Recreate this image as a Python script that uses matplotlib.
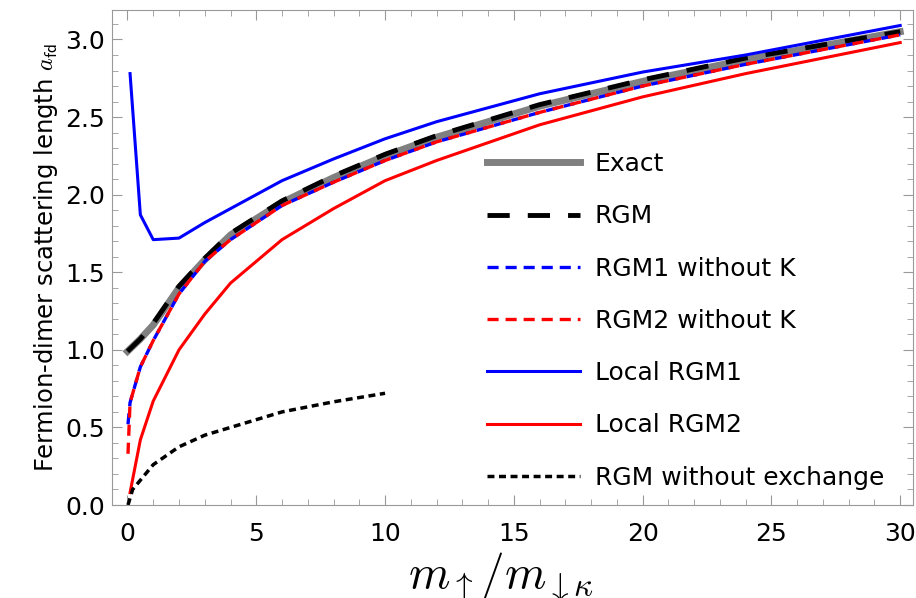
import matplotlib
matplotlib.use("Agg")
from matplotlib import pyplot as plt

plt.rcParams['font.family'] = ['DejaVu Sans']
plt.rcParams['mathtext.fontset'] = 'cm'
plt.rcParams['lines.scale_dashes'] = False

# curves
x_exact = [0, 0.5, 1, 2, 3, 4, 6, 8, 10, 12, 16, 20, 24, 30]
y_exact = [0.99, 1.07, 1.16, 1.40, 1.58, 1.74, 1.95, 2.11, 2.25, 2.37, 2.57, 2.73, 2.87, 3.05]
y_rgm = [0.99, 1.07, 1.17, 1.41, 1.59, 1.75, 1.96, 2.12, 2.26, 2.38, 2.58, 2.74, 2.88, 3.05]

x_nok = [0.02, 0.1, 0.5, 1, 2, 3, 4, 6, 8, 10, 12, 16, 20, 24, 30]
y_rgm1_nok = [0.52, 0.66, 0.89, 1.06, 1.36, 1.57, 1.71, 1.93, 2.08, 2.22, 2.34, 2.53, 2.70, 2.84, 3.03]
y_rgm2_nok = [0.33, 0.66, 0.89, 1.06, 1.36, 1.57, 1.71, 1.93, 2.08, 2.22, 2.34, 2.53, 2.70, 2.84, 3.03]

x_local = [0.1, 0.5, 1, 2, 3, 4, 6, 8, 10, 12, 16, 20, 24, 30]
y_local1 = [2.78, 1.87, 1.71, 1.72, 1.82, 1.91, 2.09, 2.23, 2.36, 2.47, 2.65, 2.79, 2.90, 3.09]
y_local2 = [0.08, 0.42, 0.67, 1.00, 1.23, 1.43, 1.71, 1.91, 2.09, 2.22, 2.45, 2.63, 2.78, 2.98]

x_noex = [0.02, 0.2, 1, 2, 3, 4, 6, 8, 10]
y_noex = [0.0, 0.1, 0.26, 0.375, 0.45, 0.50, 0.60, 0.665, 0.72]

fig = plt.figure(figsize=(9.16, 5.98), dpi=100)
ax = fig.add_axes([0.1223, 0.1555, 0.8745, 0.8278])

ax.plot(x_exact, y_exact, color='gray', lw=5, label='Exact')
ax.plot(x_exact, y_rgm, color='k', lw=3.5, dashes=(16, 13), label='RGM')
ax.plot(x_nok, y_rgm1_nok, color='blue', lw=2.4, dashes=(8, 5), label='RGM1 without K')
ax.plot(x_nok, y_rgm2_nok, color='red', lw=2.4, dashes=(8, 5), label='RGM2 without K')
ax.plot(x_local, y_local1, color='blue', lw=2.2, label='Local RGM1')
ax.plot(x_local, y_local2, color='red', lw=2.2, label='Local RGM2')
ax.plot(x_noex, y_noex, color='k', lw=2.5, dashes=(5, 3.3), label='RGM without exchange')

ax.set_xlim(-0.6, 30.5)
ax.set_ylim(0, 3.19)
ax.set_xticks([0, 5, 10, 15, 20, 25, 30])
ax.set_xticks(range(0, 31), minor=True)
ax.set_yticks([0, 0.5, 1.0, 1.5, 2.0, 2.5, 3.0])
ax.set_yticks([i / 10 for i in range(0, 32)], minor=True)
ax.tick_params(which='both', direction='in', top=True, right=True, color='#999999', labelsize=18)
ax.tick_params(which='major', length=7)
ax.tick_params(which='minor', length=4)
ax.tick_params(axis='x', pad=12)
ax.tick_params(axis='y', pad=5)
for s in ax.spines.values():
    s.set_color('#999999')

ax.set_ylabel(r'Fermion-dimer scattering length $a_{\mathsf{fd}}$', fontsize=17.5, labelpad=4)
fig.text(408 / 916, 1 - 588 / 598, r'$m_{\uparrow}/m_{\downarrow\kappa}$', fontsize=34, va='baseline')

ax.legend(loc='upper left', bbox_to_anchor=(0.456, 0.733), frameon=False, fontsize=18,
          handlelength=3.7, handletextpad=0.6, labelspacing=1.13, borderaxespad=0)

fig.savefig('out.png', dpi=100)
